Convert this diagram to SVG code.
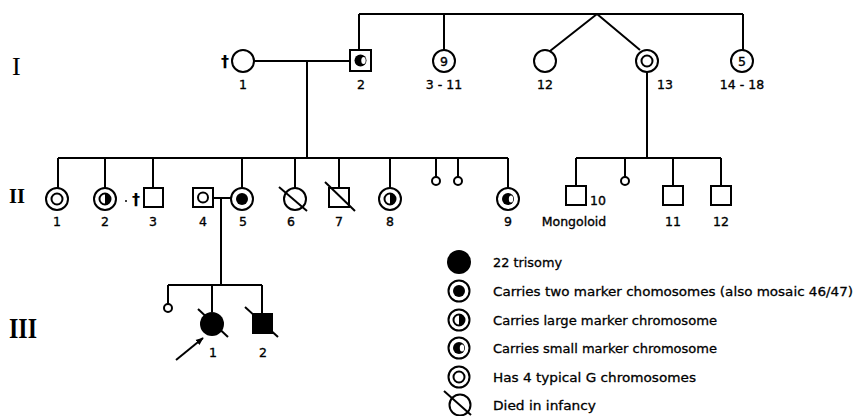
<svg xmlns="http://www.w3.org/2000/svg" width="859" height="416" viewBox="0 0 859 416">
<style>
.ln{stroke:#000;stroke-width:2;fill:none}
.sym{stroke:#000;stroke-width:2;fill:#fff}
.blk{fill:#000;stroke:none}
.t{font-family:"DejaVu Sans","Liberation Sans",sans-serif;font-size:12.5px;fill:#000;stroke:#000;stroke-width:0.35;text-anchor:middle}
.lg{font-family:"DejaVu Sans","Liberation Sans",sans-serif;font-size:13px;fill:#000;stroke:#000;stroke-width:0.3}
.dg{font-family:"DejaVu Sans","Liberation Sans",sans-serif;font-size:16px;font-weight:bold;fill:#000;text-anchor:middle}
.rom{font-family:"Liberation Serif",serif;fill:#000}
</style>
<defs>
<marker id="ah" viewBox="0 0 10 10" refX="9" refY="5" markerWidth="8" markerHeight="8" orient="auto" markerUnits="userSpaceOnUse">
<path d="M0,1 L10,5 L0,9 z" fill="#000"/>
</marker>
</defs>
<rect width="859" height="416" fill="#fff"/>
<g id="roman">
<text class="rom" x="12" y="75" font-size="26">I</text>
<text class="rom" x="9" y="203" font-size="22" font-weight="bold" textLength="16" lengthAdjust="spacingAndGlyphs">II</text>
<text class="rom" x="9" y="338" font-size="30" font-weight="bold" textLength="28" lengthAdjust="spacingAndGlyphs">III</text>
</g>
<g id="connectors">
<path class="ln" d="M359,14 H743 M359,14 V50 M444,14 V50 M743,14 V50 M597,14 L550,51 M597,14 L640,50"/>
<path class="ln" d="M254,61 H350 M307,61 V158"/>
<path class="ln" d="M58,158 H508 M58,158 V189 M105,158 V189 M153,158 V187 M242,158 V189 M295,158 V189 M339,158 V188 M390,158 V189 M436,158 V177 M458,158 V177 M508,158 V189"/>
<path class="ln" d="M647,72 V158 M576,158 H721 M576,158 V186 M625,158 V177 M673,158 V186 M721,158 V186"/>
<path class="ln" d="M213,198 H231 M221,198 V285 M168,285 H262 M168,285 V304 M212,285 V312 M262,285 V313"/>
<line class="ln" x1="176" y1="360" x2="203" y2="338" stroke-width="1.8" marker-end="url(#ah)"/>
</g>
<g id="I-1"><text class="dg" x="225" y="67">†</text><circle class="sym" cx="243" cy="61" r="11"/><text class="t" x="243" y="89">1</text></g>
<g id="I-2"><rect class="sym" x="350" y="50" width="21" height="21"/><circle class="blk" cx="360.5" cy="60.5" r="6"/><ellipse cx="363.5" cy="60.5" rx="2.2" ry="3.5" fill="#fff"/><text class="t" x="361" y="89">2</text></g>
<g id="I-3-11"><circle class="sym" cx="444" cy="61" r="11"/><text class="t" x="444" y="66" font-size="14">9</text><text class="t" x="444" y="89">3 - 11</text></g>
<g id="I-12"><circle class="sym" cx="545" cy="61" r="11"/><text class="t" x="545" y="89">12</text></g>
<g id="I-13"><circle class="sym" cx="647" cy="61" r="11"/><circle class="sym" cx="647" cy="61" r="5.5"/><text class="t" x="665" y="89">13</text></g>
<g id="I-14-18"><circle class="sym" cx="742" cy="61" r="11"/><text class="t" x="742" y="66" font-size="14">5</text><text class="t" x="742" y="89">14 - 18</text></g>
<g id="II-1"><circle class="sym" cx="57" cy="199" r="11"/><circle class="sym" cx="57" cy="199" r="5.5"/><text class="t" x="57" y="226">1</text></g>
<g id="II-2"><circle class="sym" cx="105" cy="199" r="11"/><circle class="sym" cx="105" cy="199" r="5.5"/><path class="blk" d="M105,193.5 A5.5,5.5 0 0 1 105,204.5 z"/><text class="t" x="105" y="226">2</text></g>
<g id="II-3"><circle class="blk" cx="126" cy="201" r="1"/><text class="dg" x="136" y="205">†</text><rect class="sym" x="144" y="188" width="19" height="19"/><text class="t" x="153" y="226">3</text></g>
<g id="II-4"><rect class="sym" x="193" y="188" width="20" height="19"/><circle class="sym" cx="203" cy="197.5" r="5"/><text class="t" x="203" y="226">4</text></g>
<g id="II-5"><circle class="sym" cx="242" cy="199" r="11"/><circle class="blk" cx="242" cy="199" r="6"/><text class="t" x="243" y="226">5</text></g>
<g id="II-6"><circle class="sym" cx="295" cy="199" r="11"/><line class="ln" x1="279" y1="187" x2="307" y2="211"/><text class="t" x="291" y="226">6</text></g>
<g id="II-7"><rect class="sym" x="329" y="188" width="20" height="19"/><line class="ln" x1="325" y1="182" x2="355" y2="211"/><text class="t" x="339" y="226">7</text></g>
<g id="II-8"><circle class="sym" cx="390" cy="199" r="11"/><circle class="sym" cx="390" cy="199" r="5.5"/><path class="blk" d="M390,193.5 A5.5,5.5 0 0 1 390,204.5 z"/><text class="t" x="390" y="226">8</text></g>
<g id="II-miscarriages"><circle class="sym" cx="436" cy="181" r="4"/><circle class="sym" cx="458" cy="181" r="4"/></g>
<g id="II-9"><circle class="sym" cx="508" cy="199" r="11"/><circle class="blk" cx="508" cy="199" r="6"/><ellipse cx="511" cy="199" rx="2.2" ry="3.5" fill="#fff"/><text class="t" x="508" y="226">9</text></g>
<g id="II-10"><rect class="sym" x="566" y="186" width="20" height="19"/><text class="t" x="598" y="205">10</text><text class="t" x="574" y="226">Mongoloid</text></g>
<g id="II-mc"><circle class="sym" cx="625" cy="181" r="4"/></g>
<g id="II-11"><rect class="sym" x="663" y="186" width="20" height="19"/><text class="t" x="673" y="226">11</text></g>
<g id="II-12"><rect class="sym" x="711" y="186" width="20" height="19"/><text class="t" x="721" y="226">12</text></g>
<g id="III-mc"><circle class="sym" cx="168" cy="308" r="4"/></g>
<g id="III-1"><circle class="blk" cx="212" cy="324" r="12"/><line class="ln" x1="198" y1="309" x2="228" y2="337"/><text class="t" x="213" y="357">1</text></g>
<g id="III-2"><rect class="blk" x="252" y="313" width="21" height="21"/><line class="ln" x1="245" y1="307" x2="278" y2="337"/><text class="t" x="263" y="357">2</text></g>
<g id="legend">
<circle class="blk" cx="459" cy="262" r="12"/>
<text class="lg" x="493" y="267" textLength="69" lengthAdjust="spacingAndGlyphs">22 trisomy</text>
<circle class="sym" cx="459" cy="291" r="10.5"/><circle class="blk" cx="459" cy="291" r="6"/>
<text class="lg" x="493" y="296" textLength="360" lengthAdjust="spacingAndGlyphs">Carries two marker chomosomes (also mosaic 46/47)</text>
<circle class="sym" cx="459" cy="320" r="10.5"/><circle class="sym" cx="459" cy="320" r="5.5"/><path class="blk" d="M459,314.5 A5.5,5.5 0 0 1 459,325.5 z"/>
<text class="lg" x="493" y="325" textLength="224" lengthAdjust="spacingAndGlyphs">Carries large marker chromosome</text>
<circle class="sym" cx="459" cy="348" r="10.5"/><circle class="blk" cx="459" cy="348" r="6"/><ellipse cx="462" cy="348" rx="2.2" ry="3.5" fill="#fff"/>
<text class="lg" x="493" y="353" textLength="224" lengthAdjust="spacingAndGlyphs">Carries small marker chromosome</text>
<circle class="sym" cx="459" cy="377" r="10.5"/><circle class="sym" cx="459" cy="377" r="5.5"/>
<text class="lg" x="493" y="382" textLength="203" lengthAdjust="spacingAndGlyphs">Has 4 typical G chromosomes</text>
<circle class="sym" cx="460" cy="405" r="10.5"/><line class="ln" x1="444" y1="391" x2="471" y2="415"/>
<text class="lg" x="493" y="410" textLength="103" lengthAdjust="spacingAndGlyphs">Died in infancy</text>
</g>
</svg>
